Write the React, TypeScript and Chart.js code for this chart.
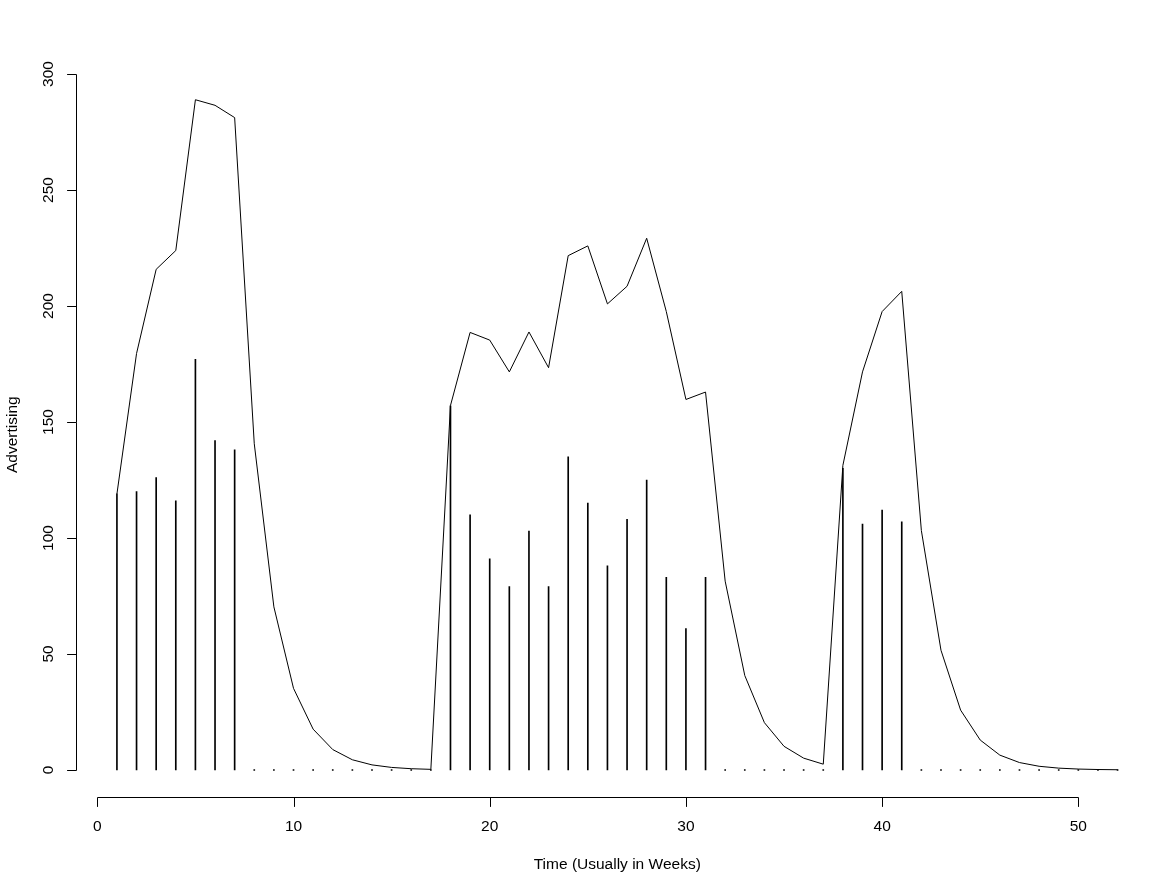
import React, { useEffect, useRef } from "react";
import { Chart, registerables } from "chart.js";

Chart.register(...registerables);

const weeks = [
  1, 2, 3, 4, 5, 6, 7, 8, 9, 10, 11, 12, 13, 14, 15, 16, 17, 18, 19, 20, 21, 22, 23, 24, 25, 26,
  27, 28, 29, 30, 31, 32, 33, 34, 35, 36, 37, 38, 39, 40, 41, 42, 43, 44, 45, 46, 47, 48, 49, 50, 51, 52,
];

const advertising = [
  119, 120, 126, 116, 177, 142, 138, 0, 0, 0, 0, 0, 0, 0, 0, 0, 0,
  157, 110, 91, 79, 103, 79, 135, 115, 88, 108, 125, 83, 61, 83,
  0, 0, 0, 0, 0, 0,
  130, 106, 112, 107,
  0, 0, 0, 0, 0, 0, 0, 0, 0, 0, 0,
];

const adstock = [
  119, 179.5, 215.8, 223.9, 288.9, 286.5, 281.2, 140.6, 70.3, 35.2, 17.6, 8.8, 4.4, 2.2, 1.1, 0.55, 0.27,
  157.1, 188.6, 185.3, 171.6, 188.8, 173.4, 221.7, 225.9, 200.9, 208.5, 229.2, 197.6, 159.7, 162.9,
  81.4, 40.7, 20.4, 10.2, 5.1, 2.5,
  131.3, 171.6, 197.6, 206.3,
  103.2, 51.6, 25.8, 12.9, 6.4, 3.2, 1.6, 0.8, 0.4, 0.2, 0.1,
];

const xTicks = [0, 10, 20, 30, 40, 50];
const yTicks = [0, 50, 100, 150, 200, 250, 300];
const xTitle = "Time (Usually in Weeks)";
const yTitle = "Advertising";

const FONT = '15.5px "Liberation Sans", Arial, sans-serif';

const rAxesPlugin = {
  id: "rAxes",
  afterDraw(chart: any) {
    const { ctx, chartArea, scales } = chart;
    const xs = scales.x;
    const ys = scales.y;
    const tick = 9.4;
    ctx.save();
    ctx.strokeStyle = "#000";
    ctx.fillStyle = "#000";
    ctx.lineWidth = 1;
    ctx.font = FONT;

    // x axis
    const yAx = Math.round(chartArea.bottom) + 0.5;
    const x0 = xs.getPixelForValue(xTicks[0]);
    const x1 = xs.getPixelForValue(xTicks[xTicks.length - 1]);
    ctx.beginPath();
    ctx.moveTo(Math.round(x0) + 0.5, yAx);
    ctx.lineTo(Math.round(x1) + 0.5, yAx);
    xTicks.forEach((t) => {
      const px = Math.round(xs.getPixelForValue(t)) + 0.5;
      ctx.moveTo(px, yAx);
      ctx.lineTo(px, yAx + tick);
    });
    ctx.stroke();
    ctx.textAlign = "center";
    ctx.textBaseline = "middle";
    xTicks.forEach((t) => {
      ctx.fillText(String(t), xs.getPixelForValue(t), 826.5);
    });

    // y axis
    const xAx = Math.round(chartArea.left) - 0.5;
    const y0 = ys.getPixelForValue(yTicks[0]);
    const y1 = ys.getPixelForValue(yTicks[yTicks.length - 1]);
    ctx.beginPath();
    ctx.moveTo(xAx, Math.round(y0) + 0.5);
    ctx.lineTo(xAx, Math.round(y1) + 0.5);
    yTicks.forEach((t) => {
      const py = Math.round(ys.getPixelForValue(t)) + 0.5;
      ctx.moveTo(xAx, py);
      ctx.lineTo(xAx - tick, py);
    });
    ctx.stroke();
    yTicks.forEach((t) => {
      ctx.save();
      ctx.translate(49, ys.getPixelForValue(t));
      ctx.rotate(-Math.PI / 2);
      ctx.fillText(String(t), 0, 0);
      ctx.restore();
    });

    // titles
    ctx.fillText(xTitle, (chartArea.left + chartArea.right) / 2, 865);
    ctx.save();
    ctx.translate(13, (chartArea.top + chartArea.bottom) / 2);
    ctx.rotate(-Math.PI / 2);
    ctx.fillText(yTitle, 0, 0);
    ctx.restore();

    ctx.restore();
  },
};

export default function App() {
  const canvasRef = useRef<HTMLCanvasElement | null>(null);

  useEffect(() => {
    const canvas = canvasRef.current;
    if (!canvas) return;
    const chart = new Chart(canvas, {
      type: "bar",
      data: {
        datasets: [
          {
            type: "line",
            label: "Adstock",
            data: weeks.map((w, i) => ({ x: w, y: adstock[i] })),
            borderColor: "#000",
            borderWidth: 1,
            pointRadius: 0,
            tension: 0,
            fill: false,
          } as any,
          {
            type: "bar",
            label: "Advertising",
            data: weeks.map((w, i) => ({ x: w, y: advertising[i] })),
            backgroundColor: "#000",
            borderWidth: 0,
            barThickness: 1,
            minBarLength: 1,
            grouped: false,
          } as any,
        ],
      },
      options: {
        animation: false,
        responsive: false,
        devicePixelRatio: 1,
        layout: { padding: { left: 76.9, right: 0.4, top: 72.6, bottom: 88.2 } },
        plugins: { legend: { display: false }, tooltip: { enabled: false } },
        scales: {
          x: { type: "linear", display: false, min: -1.04, max: 54.04, offset: false },
          y: { type: "linear", display: false, min: -11.56, max: 300.6 },
        },
      } as any,
      plugins: [rAxesPlugin],
    });
    return () => chart.destroy();
  }, []);

  return (
    <div
      style={{
        position: "fixed",
        left: 0,
        top: 0,
        width: 1152,
        height: 885,
        overflow: "hidden",
        background: "#fff",
      }}
    >
      <canvas ref={canvasRef} width={1158} height={885} style={{ display: "block" }} />
    </div>
  );
}
